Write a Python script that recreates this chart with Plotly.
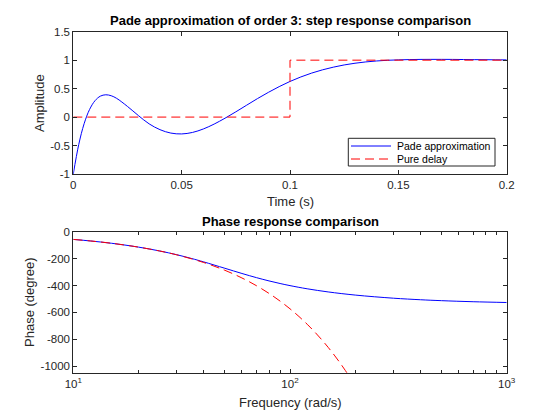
import plotly.graph_objects as go

# ---- Step response data ----
t_pade = [0, 0.0025, 0.005, 0.0075, 0.01, 0.0125, 0.015, 0.0175, 0.02, 0.025, 0.03, 0.035,
          0.04, 0.045, 0.05, 0.055, 0.06, 0.065, 0.07, 0.075, 0.08, 0.085, 0.09, 0.095,
          0.1, 0.105, 0.11, 0.115, 0.12, 0.125, 0.13, 0.135, 0.14, 0.145, 0.15, 0.155,
          0.16, 0.165, 0.17, 0.175, 0.18, 0.185, 0.19, 0.195, 0.2]
y_pade = [-1.0, -0.484, -0.116, 0.133, 0.287, 0.368, 0.392, 0.375, 0.329, 0.187, 0.028, -0.119,
          -0.221, -0.281, -0.296, -0.270, -0.209, -0.123, -0.020, 0.092, 0.209, 0.325, 0.434, 0.535,
          0.626, 0.705, 0.773, 0.830, 0.877, 0.916, 0.946, 0.969, 0.986, 0.998, 1.005, 1.010,
          1.013, 1.014, 1.014, 1.013, 1.011, 1.009, 1.008, 1.006, 1.005]
t_delay = [0, 0.1, 0.1, 0.2]
y_delay = [0, 0, 1, 1]

# ---- Phase response data ----
w_pade = [10, 12, 15, 20, 25, 30, 35, 40, 50, 60, 70, 80, 90, 100, 120, 150, 200, 300, 400, 500, 700, 1000]
ph_pade = [-57.3, -68.8, -85.9, -114.5, -143.0, -171.0, -198.4, -224.5, -271.6, -310.4, -341.3,
           -365.7, -385.0, -400.6, -424.2, -447.6, -470.9, -494.1, -505.6, -512.5, -520.3, -526.2]
w_delay = [10, 12, 15, 20, 25, 30, 40, 50, 60, 70, 80, 90, 100, 110, 120, 130, 140, 150, 160, 170, 180, 190, 200]
ph_delay = [-57.3, -68.8, -85.9, -114.6, -143.2, -171.9, -229.2, -286.5, -343.8, -401.1, -458.4,
            -515.7, -573.0, -630.3, -687.5, -744.8, -802.1, -859.4, -916.7, -974.0, -1031.3, -1088.6, -1145.9]

x_ticks_top = [0, 0.05, 0.1, 0.15, 0.2]
x_ticktext_top = ["0", "0.05", "0.1", "0.15", "0.2"]
y_ticks_top = [-1, -0.5, 0, 0.5, 1, 1.5]
y_ticktext_top = ["-1", "-0.5", "0", "0.5", "1", "1.5"]
y_ticks_bot = [-1000, -800, -600, -400, -200, 0]
y_ticktext_bot = ["-1000", "-800", "-600", "-400", "-200", "0"]
w_ticks = [10, 100, 1000]
w_ticktext = ["10<sup>1</sup>", "10<sup>2</sup>", "10<sup>3</sup>"]
w_minor = [20, 30, 40, 50, 60, 70, 80, 90, 200, 300, 400, 500, 600, 700, 800, 900]
legend_names = ["Pade approximation", "Pure delay"]

BLUE = "#0000FF"
RED = "#FF0000"
AX = "#262626"
FONT = "Liberation Sans, Arial, sans-serif"
DASH = "9px,5px"
W, H = 560, 420

fig = go.Figure()
fig.add_trace(go.Scatter(x=t_pade, y=y_pade, mode="lines", name=legend_names[0], showlegend=False,
                         line=dict(color=BLUE, width=1, shape="spline"), xaxis="x", yaxis="y"))
fig.add_trace(go.Scatter(x=t_delay, y=y_delay, mode="lines", name=legend_names[1], showlegend=False,
                         line=dict(color=RED, width=1, dash=DASH), xaxis="x", yaxis="y"))
fig.add_trace(go.Scatter(x=w_pade, y=ph_pade, mode="lines", showlegend=False,
                         line=dict(color=BLUE, width=1, shape="spline"), xaxis="x2", yaxis="y2"))
fig.add_trace(go.Scatter(x=w_delay, y=ph_delay, mode="lines", showlegend=False,
                         line=dict(color=RED, width=1, dash=DASH, shape="spline"), xaxis="x2", yaxis="y2"))

common = dict(showline=True, linecolor=AX, linewidth=1, mirror="ticks", ticks="inside",
              ticklen=4, tickcolor=AX, showgrid=False, zeroline=False, automargin=False,
              tickfont=dict(family=FONT, size=11.5, color=AX))


def px(x):
    return x / W


def py(y):
    return 1 - y / H


# manual MATLAB-style legend box
lg_x0, lg_x1, lg_y0, lg_y1 = 348.3, 495, 138.3, 166
shapes = [
    dict(type="rect", xref="paper", yref="paper", x0=px(lg_x0), x1=px(lg_x1), y0=py(lg_y1), y1=py(lg_y0),
         line=dict(color=AX, width=1), fillcolor="white", layer="above"),
    dict(type="line", xref="paper", yref="paper", x0=px(351), x1=px(391), y0=py(146), y1=py(146),
         line=dict(color=BLUE, width=1), layer="above"),
    dict(type="line", xref="paper", yref="paper", x0=px(351), x1=px(391), y0=py(159), y1=py(159),
         line=dict(color=RED, width=1, dash=DASH), layer="above"),
]

annotations = [
    dict(text="<b>Pade approximation of order 3: step response comparison</b>",
         x=px(290), y=py(20), xref="paper", yref="paper", showarrow=False,
         font=dict(family=FONT, size=13, color="black"), xanchor="center", yanchor="middle"),
    dict(text="<b>Phase response comparison</b>",
         x=px(290), y=py(221), xref="paper", yref="paper", showarrow=False,
         font=dict(family=FONT, size=13, color="black"), xanchor="center", yanchor="middle"),
    dict(text="Time (s)", x=px(290), y=py(201), xref="paper", yref="paper",
         showarrow=False, font=dict(family=FONT, size=13, color=AX), xanchor="center", yanchor="middle"),
    dict(text="Frequency (rad/s)", x=px(290), y=py(402), xref="paper", yref="paper",
         showarrow=False, font=dict(family=FONT, size=13, color=AX), xanchor="center", yanchor="middle"),
    dict(text="Amplitude", x=px(39), y=py(103), xref="paper", yref="paper", textangle=-90,
         showarrow=False, font=dict(family=FONT, size=13, color=AX), xanchor="center", yanchor="middle"),
    dict(text="Phase (degree)", x=px(29), y=py(302), xref="paper", yref="paper", textangle=-90,
         showarrow=False, font=dict(family=FONT, size=13, color=AX), xanchor="center", yanchor="middle"),
    dict(text=legend_names[0], x=px(395), y=py(146), xref="paper", yref="paper", showarrow=False,
         font=dict(family=FONT, size=10.5, color="black"), xanchor="left", yanchor="middle"),
    dict(text=legend_names[1], x=px(395), y=py(159), xref="paper", yref="paper", showarrow=False,
         font=dict(family=FONT, size=10.5, color="black"), xanchor="left", yanchor="middle"),
]

fig.update_layout(
    width=W, height=H,
    margin=dict(l=0, r=0, t=0, b=0),
    paper_bgcolor="white", plot_bgcolor="white",
    font=dict(family=FONT, size=11.5, color=AX),
    showlegend=False,
    hovermode=False,
    xaxis=dict(domain=[px(73.3), px(506.7)], anchor="y", range=[0, 0.2],
               tickvals=x_ticks_top, ticktext=x_ticktext_top, **common),
    yaxis=dict(domain=[py(174), py(31.7)], anchor="x", range=[-1, 1.5],
               tickvals=y_ticks_top, ticktext=y_ticktext_top, **common),
    xaxis2=dict(domain=[px(73.3), px(506.7)], anchor="y2", type="log", range=[1, 3],
                tickvals=w_ticks, ticktext=w_ticktext,
                minor=dict(ticks="inside", ticklen=3, tickcolor=AX, tickvals=w_minor, showgrid=False),
                **common),
    yaxis2=dict(domain=[py(373), py(231.7)], anchor="x2", range=[-1050, 0],
                tickvals=y_ticks_bot, ticktext=y_ticktext_bot, **common),
    shapes=shapes,
    annotations=annotations,
)

fig.write_html("out.html", config={"displayModeBar": False},
               post_script="document.body.style.margin='0';document.body.style.padding='0';")
